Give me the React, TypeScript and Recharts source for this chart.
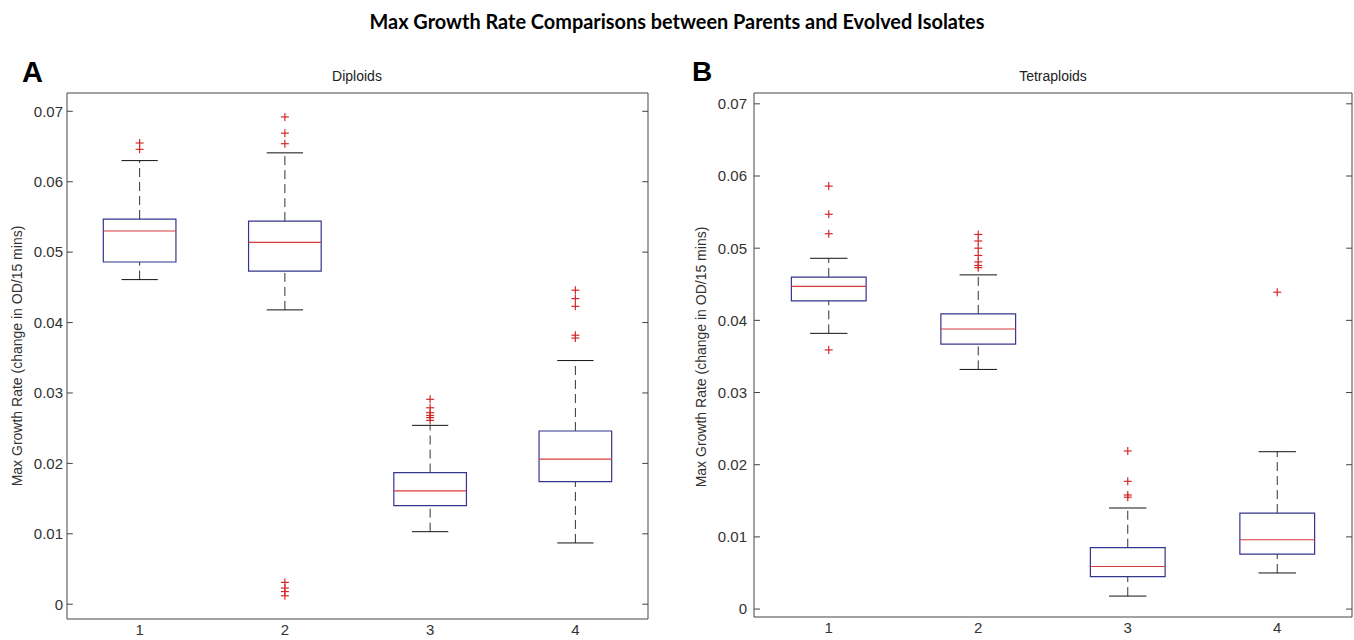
import React from 'react';
import { ComposedChart, XAxis, YAxis, Scatter, ReferenceArea, ReferenceLine } from 'recharts';

// ---- data ----
const groups = [1, 2, 3, 4];
const yTicks = [0, 0.01, 0.02, 0.03, 0.04, 0.05, 0.06, 0.07];

const dipLow = [0.0461, 0.0418, 0.0103, 0.0087];
const dipQ1 = [0.0486, 0.0473, 0.0140, 0.0174];
const dipMed = [0.0530, 0.0514, 0.0161, 0.0206];
const dipQ3 = [0.0547, 0.0544, 0.0187, 0.0246];
const dipHigh = [0.0630, 0.0641, 0.0254, 0.0346];
const dipOutliers = [
  [0.0655, 0.0646],
  [0.0692, 0.0669, 0.0654, 0.0031, 0.0023, 0.0018, 0.0012],
  [0.0291, 0.0279, 0.0272, 0.0268, 0.0265, 0.0261],
  [0.0446, 0.0434, 0.0423, 0.0382, 0.0378],
];

const tetLow = [0.0382, 0.0332, 0.0018, 0.0050];
const tetQ1 = [0.0427, 0.0367, 0.0045, 0.0076];
const tetMed = [0.0447, 0.0388, 0.0059, 0.0096];
const tetQ3 = [0.0460, 0.0409, 0.0085, 0.0133];
const tetHigh = [0.0486, 0.0463, 0.0140, 0.0218];
const tetOutliers = [
  [0.0586, 0.0547, 0.0520, 0.0359],
  [0.0519, 0.0510, 0.0500, 0.0490, 0.0481, 0.0476, 0.0473],
  [0.0219, 0.0177, 0.0158, 0.0155],
  [0.0439],
];

const BOX = '#35358f';
const MED = '#d83a3a';
const WHISK = '#333333';
const OUT = '#d42a2a';
const FRAME = '#444444';
const FONT = '"Liberation Sans", Arial, sans-serif';

const Plus = (props: any) => {
  const { cx, cy } = props;
  if (cx == null || cy == null) return null;
  return (
    <g>
      <line x1={cx - 4} x2={cx + 4} y1={cy} y2={cy} stroke={OUT} strokeWidth={1.2} />
      <line x1={cx} x2={cx} y1={cy - 4} y2={cy + 4} stroke={OUT} strokeWidth={1.2} />
    </g>
  );
};

type PanelProps = {
  width: number;
  height: number;
  margin: any;
  yDomain: [number, number];
  low: number[];
  q1: number[];
  med: number[];
  q3: number[];
  high: number[];
  outliers: number[][];
  tickMargin: number;
  tickLen: number;
};

const Panel = (p: PanelProps) => {
  const pts = groups.flatMap((g, i) => p.outliers[i].map((v) => ({ x: g, y: v })));
  const xMin = 0.5;
  const xMax = 4.5;
  return (
    <ComposedChart width={p.width} height={p.height} margin={p.margin} data={pts}>
      <XAxis
        type="number"
        dataKey="x"
        domain={[xMin, xMax]}
        ticks={groups}
        allowDataOverflow
        axisLine={false}
        tickLine={false}
        tickSize={0}
        tickMargin={5}
        height={20}
        tick={{ fontSize: 15, fill: '#333', fontFamily: FONT }}
      />
      <YAxis
        type="number"
        dataKey="y"
        domain={p.yDomain}
        ticks={yTicks}
        allowDataOverflow
        axisLine={false}
        tickLine={false}
        tickSize={0}
        tickMargin={p.tickMargin}
        width={50}
        tick={{ fontSize: 15, fill: '#333', fontFamily: FONT }}
      />
      <ReferenceArea
        x1={xMin}
        x2={xMax}
        y1={p.yDomain[0]}
        y2={p.yDomain[1]}
        ifOverflow="visible"
        fill="none"
        stroke={FRAME}
        strokeWidth={1}
      />
      {yTicks.map((t) => (
        <ReferenceLine
          key={'tl' + t}
          segment={[{ x: xMin, y: t }, { x: xMin + p.tickLen, y: t }]}
          stroke={FRAME}
          ifOverflow="visible"
        />
      ))}
      {yTicks.map((t) => (
        <ReferenceLine
          key={'tr' + t}
          segment={[{ x: xMax - p.tickLen, y: t }, { x: xMax, y: t }]}
          stroke={FRAME}
          ifOverflow="visible"
        />
      ))}
      {groups.map((g, i) => (
        <ReferenceLine
          key={'wu' + g}
          segment={[{ x: g, y: p.q3[i] }, { x: g, y: p.high[i] }]}
          stroke={WHISK}
          strokeDasharray="9 5"
          ifOverflow="visible"
        />
      ))}
      {groups.map((g, i) => (
        <ReferenceLine
          key={'wl' + g}
          segment={[{ x: g, y: p.low[i] }, { x: g, y: p.q1[i] }]}
          stroke={WHISK}
          strokeDasharray="9 5"
          ifOverflow="visible"
        />
      ))}
      {groups.map((g, i) => (
        <ReferenceLine
          key={'cu' + g}
          segment={[{ x: g - 0.125, y: p.high[i] }, { x: g + 0.125, y: p.high[i] }]}
          stroke="#111"
          ifOverflow="visible"
        />
      ))}
      {groups.map((g, i) => (
        <ReferenceLine
          key={'cl' + g}
          segment={[{ x: g - 0.125, y: p.low[i] }, { x: g + 0.125, y: p.low[i] }]}
          stroke="#111"
          ifOverflow="visible"
        />
      ))}
      {groups.map((g, i) => (
        <ReferenceArea
          key={'b' + g}
          x1={g - 0.25}
          x2={g + 0.25}
          y1={p.q1[i]}
          y2={p.q3[i]}
          fill="#ffffff"
          fillOpacity={1}
          stroke={BOX}
          strokeWidth={1.2}
          ifOverflow="visible"
        />
      ))}
      {groups.map((g, i) => (
        <ReferenceLine
          key={'m' + g}
          segment={[{ x: g - 0.25, y: p.med[i] }, { x: g + 0.25, y: p.med[i] }]}
          stroke={MED}
          strokeWidth={1.2}
          ifOverflow="visible"
        />
      ))}
      <Scatter data={pts} dataKey="y" shape={<Plus />} isAnimationActive={false} />
    </ComposedChart>
  );
};

export default function App() {
  const yLabel = 'Max Growth Rate (change in OD/15 mins)';
  return (
    <div
      style={{
        position: 'absolute',
        left: 0,
        top: 0,
        width: 1354,
        height: 640,
        background: '#ffffff',
        overflow: 'hidden',
      }}
    >
      <div style={{ position: 'absolute', left: 0, top: 0 }}>
        <Panel
          width={660}
          height={640}
          margin={{ top: 93, right: 12, bottom: 1, left: 17 }}
          yDomain={[-0.0021, 0.0726]}
          low={dipLow}
          q1={dipQ1}
          med={dipMed}
          q3={dipQ3}
          high={dipHigh}
          outliers={dipOutliers}
          tickMargin={4}
          tickLen={0.04}
        />
      </div>
      <div style={{ position: 'absolute', left: 680, top: 0 }}>
        <Panel
          width={674}
          height={640}
          margin={{ top: 93, right: 2, bottom: 3, left: 24 }}
          yDomain={[-0.0011, 0.0715]}
          low={tetLow}
          q1={tetQ1}
          med={tetMed}
          q3={tetQ3}
          high={tetHigh}
          outliers={tetOutliers}
          tickMargin={7}
          tickLen={0.04}
        />
      </div>
      <svg
        width={1354}
        height={640}
        style={{ position: 'absolute', left: 0, top: 0, pointerEvents: 'none' }}
      >
        <text
          x={677}
          y={29}
          textAnchor="middle"
          fontFamily='Lato, "Open Sans", sans-serif'
          fontWeight={700}
          fontSize={20.5}
          fill="#000"
          textLength={615}
          lengthAdjust="spacingAndGlyphs"
        >
          Max Growth Rate Comparisons between Parents and Evolved Isolates
        </text>
        <text x={22} y={82} fontFamily={FONT} fontWeight={700} fontSize={29} fill="#000">
          A
        </text>
        <text x={692} y={81} fontFamily={FONT} fontWeight={700} fontSize={28} fill="#000">
          B
        </text>
        <text x={357} y={81} textAnchor="middle" fontFamily={FONT} fontSize={14} fill="#222">
          Diploids
        </text>
        <text x={1053} y={81} textAnchor="middle" fontFamily={FONT} fontSize={14} fill="#222">
          Tetraploids
        </text>
        <text
          x={0}
          y={0}
          transform="translate(22,356) rotate(-90)"
          textAnchor="middle"
          fontFamily={FONT}
          fontSize={14}
          fill="#333"
        >
          {yLabel}
        </text>
        <text
          x={0}
          y={0}
          transform="translate(706,357) rotate(-90)"
          textAnchor="middle"
          fontFamily={FONT}
          fontSize={14}
          fill="#333"
        >
          {yLabel}
        </text>
      </svg>
    </div>
  );
}
